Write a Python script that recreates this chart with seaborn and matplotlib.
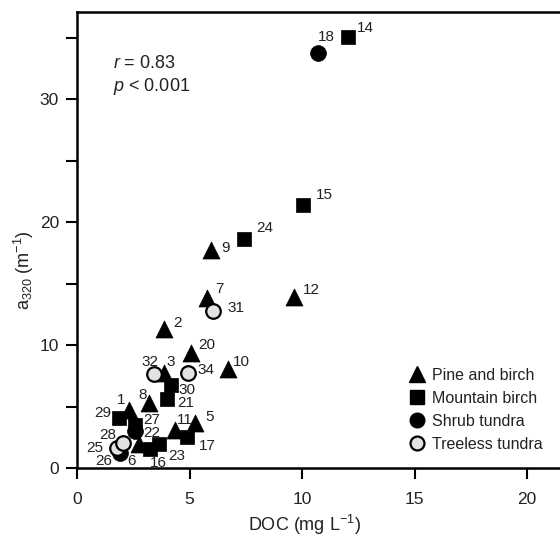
import matplotlib
matplotlib.use("Agg")
import matplotlib.pyplot as plt
import seaborn as sns
import pandas as pd
from matplotlib.lines import Line2D

# ---- data ----
pine_ids = [1, 2, 3, 5, 6, 7, 8, 9, 10, 11, 12, 20]
pine_doc = [2.31, 3.87, 3.87, 5.24, 2.76, 5.78, 3.20, 5.96, 6.71, 4.36, 9.64, 5.07]
pine_a320 = [4.72, 11.30, 7.72, 3.66, 1.95, 13.82, 5.28, 17.72, 8.05, 3.09, 13.90, 9.35]

mtn_ids = [14, 15, 16, 17, 21, 23, 24, 27, 29, 30]
mtn_doc = [12.04, 10.04, 3.24, 4.89, 4.00, 3.64, 7.42, 2.58, 1.87, 4.18]
mtn_a320 = [35.04, 21.38, 1.54, 2.52, 5.61, 1.95, 18.62, 3.50, 4.07, 6.75]

shrub_ids = [18, 22, 26]
shrub_doc = [10.71, 2.58, 1.91]
shrub_a320 = [33.74, 3.00, 1.22]

treeless_ids = [25, 28, 31, 32, 34]
treeless_doc = [1.78, 2.04, 6.04, 3.42, 4.93]
treeless_a320 = [1.63, 2.03, 12.76, 7.64, 7.72]

group_names = ["Pine and birch", "Mountain birch", "Shrub tundra", "Treeless tundra"]
x_ticks = [0, 5, 10, 15, 20]
y_major = [0, 10, 20, 30]

# ---- layout / style ----
label_offsets = {
    1: (-4, 10, "right"), 2: (9, 6, "left"), 3: (2, 11, "left"), 5: (10, 6, "left"),
    6: (-3, -17, "right"), 7: (8, 9, "left"), 8: (-2, 8, "right"), 9: (10, 2, "left"),
    10: (5, 7, "left"), 11: (2, 10, "left"), 12: (9, 7, "left"), 20: (7, 8, "left"),
    14: (9, 9, "left"), 15: (13, 10, "left"), 16: (0, -14, "left"), 17: (12, -9, "left"),
    21: (10, -4, "left"), 23: (9, -12, "left"), 24: (12, 11, "left"), 27: (8, 5, "left"),
    29: (-8, 5, "right"), 30: (7, -5, "left"), 18: (0, 16, "left"), 22: (8, -2, "left"),
    26: (-8, -8, "right"), 25: (-14, 0, "right"), 28: (-7, 8, "right"), 31: (15, 3, "left"),
    32: (-4, 12, "center"), 34: (10, 3, "left"),
}

sns.set_theme(style="white")
plt.rcParams["font.family"] = ["Liberation Sans", "DejaVu Sans"]
plt.rcParams["mathtext.fontset"] = "custom"
plt.rcParams["mathtext.rm"] = "Liberation Sans"
plt.rcParams["mathtext.it"] = "Liberation Sans:italic"

fig = plt.figure(figsize=(5.6, 5.42), dpi=100)
ax = fig.add_axes([77 / 560, 74 / 542, 495 / 560, 456 / 542])

groups = [
    (pine_ids, pine_doc, pine_a320, "^", "black", 150, group_names[0]),
    (mtn_ids, mtn_doc, mtn_a320, "s", "black", 110, group_names[1]),
    (shrub_ids, shrub_doc, shrub_a320, "o", "black", 130, group_names[2]),
    (treeless_ids, treeless_doc, treeless_a320, "o", "#e2e2e2", 110, group_names[3]),
]

frames = []
for ids, xs, ys, mk, col, s, name in groups:
    df = pd.DataFrame({"id": ids, "DOC": xs, "a320": ys, "group": name})
    frames.append(df)
    sns.scatterplot(data=df, x="DOC", y="a320", marker=mk, color=col, s=s,
                    edgecolor="black", linewidth=1.6 if col != "black" else 0.5,
                    ax=ax, legend=False, zorder=3)

alldf = pd.concat(frames)
for _, row in alldf.iterrows():
    dx, dy, ha = label_offsets[int(row["id"])]
    ax.annotate(str(int(row["id"])), (row["DOC"], row["a320"]), xytext=(dx, dy),
                textcoords="offset pixels", ha=ha, va="center", fontsize=11,
                color="#222222", zorder=4)

ax.set_xlim(0, 22)
ax.set_ylim(0, 37.1)
ax.set_xticks(x_ticks)
ax.set_yticks([0, 5, 10, 15, 20, 25, 30, 35])
ax.set_yticklabels([str(v) if v in y_major else "" for v in [0, 5, 10, 15, 20, 25, 30, 35]])
ax.tick_params(axis="both", direction="out", length=8, width=1.5, labelsize=12.5,
               colors="black", labelcolor="#222222", pad=5, bottom=True, left=True)
ax.tick_params(axis="x", pad=9)
for side in ["left", "bottom", "top"]:
    ax.spines[side].set_visible(True)
    ax.spines[side].set_linewidth(1.8)
    ax.spines[side].set_color("black")
ax.spines["right"].set_visible(False)

ax.set_xlabel("DOC (mg L$^{-1}$)", fontsize=13, color="#222222")
ax.set_ylabel("a$_{320}$ (m$^{-1}$)", fontsize=13, color="#222222")
ax.xaxis.set_label_coords(0.46, -0.125)
ax.yaxis.set_label_coords(-0.107, 0.434)
ax.xaxis.label.set_verticalalignment("center")
ax.yaxis.label.set_verticalalignment("center")

ax.text(0.072, 0.886, "$r$ = 0.83", transform=ax.transAxes, fontsize=13,
        color="#222222", va="center")
ax.text(0.072, 0.836, "$p$ < 0.001", transform=ax.transAxes, fontsize=13,
        color="#222222", va="center")

handles = [
    Line2D([], [], marker="^", ls="", color="black", markersize=11),
    Line2D([], [], marker="s", ls="", color="black", markersize=10),
    Line2D([], [], marker="o", ls="", color="black", markersize=10.5),
    Line2D([], [], marker="o", ls="", markerfacecolor="#e2e2e2",
           markeredgecolor="black", markeredgewidth=1.6, markersize=10),
]
leg = ax.legend(handles, group_names, loc="lower left", bbox_to_anchor=(0.655, 0.022),
                frameon=False, fontsize=11.5, handletextpad=0.35, labelspacing=0.5,
                handlelength=1.2, borderaxespad=0)
for t in leg.get_texts():
    t.set_color("#222222")

fig.savefig("out.png", dpi=100)
